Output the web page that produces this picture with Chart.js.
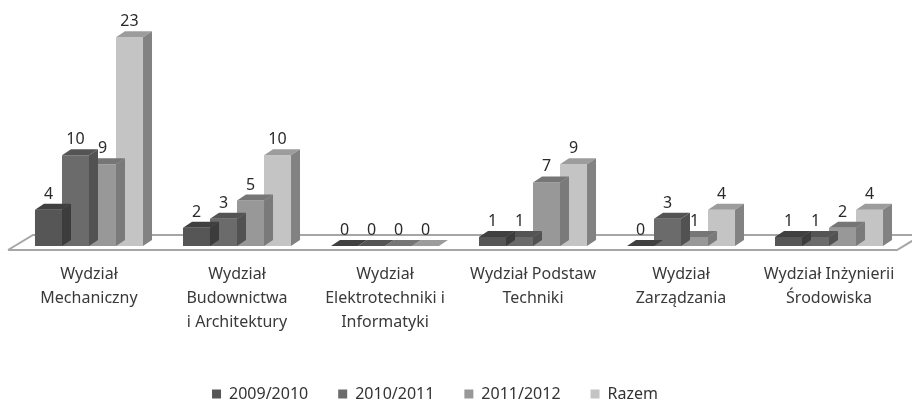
<!DOCTYPE html>
<html>
<head>
<meta charset="utf-8">
<script src="https://cdn.jsdelivr.net/npm/chart.js@4/dist/chart.umd.min.js"></script>
<style>
html,body{margin:0;padding:0;background:#fff;}
#wrap{width:912px;height:401px;}
</style>
</head>
<body>
<div id="wrap"><canvas id="chart"></canvas></div>
<script>
const categories = [
  ["Wydział", "Mechaniczny"],
  ["Wydział", "Budownictwa", "i Architektury"],
  ["Wydział", "Elektrotechniki i", "Informatyki"],
  ["Wydział Podstaw", "Techniki"],
  ["Wydział", "Zarządzania"],
  ["Wydział Inżynierii", "Środowiska"]
];
const seriesNames = ["2009/2010", "2010/2011", "2011/2012", "Razem"];
const v2009 = [4, 2, 0, 1, 0, 1];
const v2010 = [10, 3, 0, 1, 3, 1];
const v2011 = [9, 5, 0, 7, 1, 2];
const razem = [23, 10, 0, 9, 4, 4];

const FONT = "'Noto Sans', sans-serif";
const DX = 9, DY = 6;

// front / top / side shades for each series
const shades = [
  ["#565656", "#404040", "#3c3c3c"],
  ["#6b6b6b", "#545454", "#525252"],
  ["#989898", "#767676", "#7a7a7a"],
  ["#c4c4c4", "#9c9c9c", "#828282"]
];

const values = [v2009, v2010, v2011, razem];

const floor = {
  id: "floor",
  beforeDatasetsDraw(chart){
    const ctx = chart.ctx, a = chart.chartArea;
    const base = chart.scales.y.getPixelForValue(0);
    ctx.save();
    ctx.strokeStyle = "#a6a6a6";
    ctx.lineWidth = 2;
    ctx.beginPath();
    ctx.moveTo(a.left - 7, base + 4);
    ctx.lineTo(a.left + 18, base - 11);
    ctx.lineTo(a.right + 25, base - 11);
    ctx.moveTo(a.left - 7, base + 4);
    ctx.lineTo(a.right - 6, base + 4);
    ctx.lineTo(a.right + 19, base - 11);
    ctx.stroke();
    ctx.restore();
  }
};

const bars3d = {
  id: "bars3d",
  afterDatasetDraw(chart, args){
    const ctx = chart.ctx;
    const s = shades[args.index];
    ctx.save();
    args.meta.data.forEach(bar => {
      const p = bar.getProps(["x", "y", "base", "width"], true);
      const l = p.x - p.width / 2, r = p.x + p.width / 2;
      ctx.fillStyle = s[1];
      ctx.beginPath();
      ctx.moveTo(l, p.y);
      ctx.lineTo(l + DX, p.y - DY);
      ctx.lineTo(r + DX, p.y - DY);
      ctx.lineTo(r, p.y);
      ctx.closePath();
      ctx.fill();
      ctx.fillStyle = s[2];
      ctx.beginPath();
      ctx.moveTo(r, p.y);
      ctx.lineTo(r + DX, p.y - DY);
      ctx.lineTo(r + DX, p.base - DY);
      ctx.lineTo(r, p.base);
      ctx.closePath();
      ctx.fill();
    });
    ctx.restore();
  },
  afterDatasetsDraw(chart){
    const ctx = chart.ctx;
    ctx.save();
    ctx.font = "16px " + FONT;
    ctx.fillStyle = "#2a2a2a";
    ctx.textAlign = "center";
    ctx.textBaseline = "alphabetic";
    chart.data.datasets.forEach((ds, i) => {
      chart.getDatasetMeta(i).data.forEach((bar, j) => {
        const p = bar.getProps(["x", "y"], true);
        ctx.fillText(String(ds.data[j]), p.x, p.y - DY - 5);
      });
    });
    ctx.restore();
  }
};

// the legend in the original sits a little left of centre
const legendShift = {
  id: "legendShift",
  afterLayout(chart){
    chart.legend.left -= 24;
    chart.legend.right -= 24;
  }
};

new Chart(document.getElementById("chart"), {
  type: "bar",
  data: {
    labels: categories,
    datasets: seriesNames.map((name, i) => ({
      label: name,
      data: values[i],
      backgroundColor: shades[i][0],
      borderWidth: 0,
      categoryPercentage: 0.73,
      barPercentage: 1
    }))
  },
  options: {
    responsive: true,
    maintainAspectRatio: false,
    animation: false,
    layout: { padding: { left: 15, right: 9, top: 19, bottom: 0 } },
    scales: {
      y: { display: false, min: 0, max: 25 },
      x: {
        grid: { display: false, drawTicks: false },
        border: { display: false },
        ticks: {
          color: "#3a3a3a",
          padding: 16,
          maxRotation: 0,
          autoSkip: false,
          font: { family: FONT, size: 16, lineHeight: 1.5 }
        },
        afterFit(scale){ scale.height = 110; }
      }
    },
    plugins: {
      tooltip: { enabled: false },
      legend: {
        position: "bottom",
        maxHeight: 45,
        labels: {
          color: "#333",
          boxWidth: 9,
          boxHeight: 9,
          padding: 30,
          font: { family: FONT, size: 16 }
        }
      }
    }
  },
  plugins: [floor, bars3d, legendShift]
});
</script>
</body>
</html>
